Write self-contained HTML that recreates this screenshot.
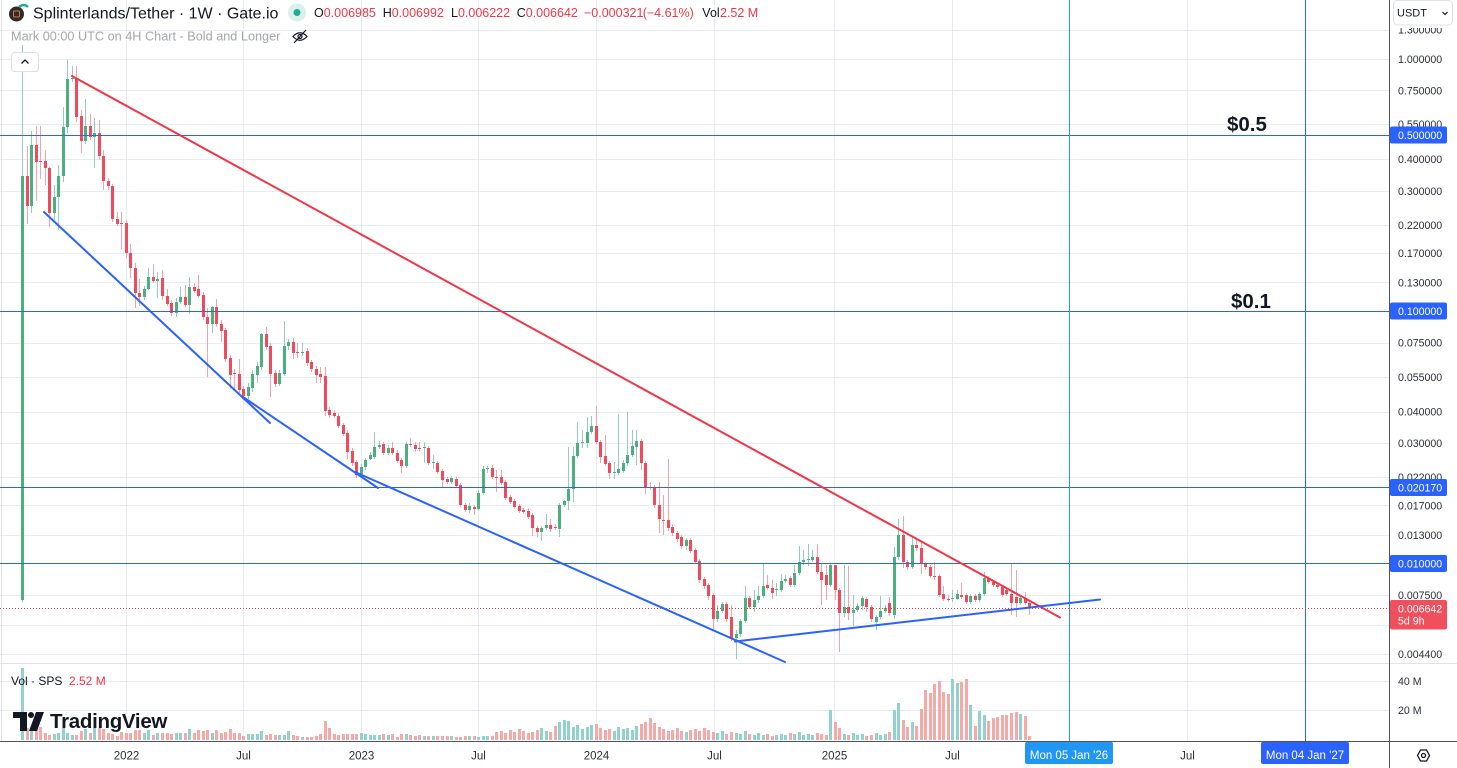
<!DOCTYPE html>
<html><head><meta charset="utf-8">
<style>
html,body{margin:0;padding:0;background:#fff;}
body{width:1457px;height:768px;overflow:hidden;position:relative;}
svg{position:absolute;left:0;top:0;font-family:"Liberation Sans",sans-serif;}
</style></head><body>
<svg width="1457" height="768" viewBox="0 0 1457 768" xmlns="http://www.w3.org/2000/svg">
<rect width="1457" height="768" fill="#fff"/>
<!-- grid -->
<g stroke="#e9edf2" stroke-width="1" shape-rendering="crispEdges">
<line x1="0" y1="30.5" x2="1389" y2="30.5"/><line x1="0" y1="59.5" x2="1389" y2="59.5"/><line x1="0" y1="90.5" x2="1389" y2="90.5"/><line x1="0" y1="124.5" x2="1389" y2="124.5"/><line x1="0" y1="159.5" x2="1389" y2="159.5"/><line x1="0" y1="191.5" x2="1389" y2="191.5"/><line x1="0" y1="225.5" x2="1389" y2="225.5"/><line x1="0" y1="253.5" x2="1389" y2="253.5"/><line x1="0" y1="282.5" x2="1389" y2="282.5"/><line x1="0" y1="343.5" x2="1389" y2="343.5"/><line x1="0" y1="377.5" x2="1389" y2="377.5"/><line x1="0" y1="412.5" x2="1389" y2="412.5"/><line x1="0" y1="443.5" x2="1389" y2="443.5"/><line x1="0" y1="477.5" x2="1389" y2="477.5"/><line x1="0" y1="505.5" x2="1389" y2="505.5"/><line x1="0" y1="535.5" x2="1389" y2="535.5"/><line x1="0" y1="595.5" x2="1389" y2="595.5"/><line x1="0" y1="625.5" x2="1389" y2="625.5"/><line x1="0" y1="654.5" x2="1389" y2="654.5"/>
<line x1="0" y1="681.5" x2="1389" y2="681.5"/><line x1="0" y1="710.5" x2="1389" y2="710.5"/>
<line x1="126.5" y1="0" x2="126.5" y2="741"/><line x1="243.5" y1="0" x2="243.5" y2="741"/><line x1="361.5" y1="0" x2="361.5" y2="741"/><line x1="478.5" y1="0" x2="478.5" y2="741"/><line x1="596.5" y1="0" x2="596.5" y2="741"/><line x1="714.5" y1="0" x2="714.5" y2="741"/><line x1="834.5" y1="0" x2="834.5" y2="741"/><line x1="952.5" y1="0" x2="952.5" y2="741"/><line x1="1187.5" y1="0" x2="1187.5" y2="741"/>
</g>
<line x1="1.5" y1="0" x2="1.5" y2="741" stroke="#e0e3eb"/>
<line x1="0" y1="663.5" x2="1457" y2="663.5" stroke="#e0e3eb"/>

<g id="vol"></g>
<g id="cand"></g>

<!-- horizontal drawing lines -->
<g stroke="#2962ff" stroke-width="1" shape-rendering="crispEdges">
<line x1="0" y1="135.5" x2="1389" y2="135.5"/>
<line x1="0" y1="311.5" x2="1389" y2="311.5"/>
<line x1="0" y1="487.5" x2="1389" y2="487.5"/>
<line x1="0" y1="563.5" x2="1389" y2="563.5"/>
<line x1="1305.5" y1="0" x2="1305.5" y2="741"/>
</g>
<line x1="1069.5" y1="0" x2="1069.5" y2="741" stroke="#2196f3" stroke-width="1" shape-rendering="crispEdges"/>
<line x1="0" y1="608.5" x2="1389" y2="608.5" stroke="#f23645" stroke-width="1" stroke-dasharray="1,2"/>

<!-- trend lines -->
<g stroke-width="2" stroke-linecap="round" fill="none">
<line x1="72" y1="76" x2="1060" y2="617.5" stroke="#f23645"/>
<line x1="44" y1="212" x2="270" y2="423" stroke="#2962ff"/>
<line x1="243" y1="397" x2="378" y2="488" stroke="#2962ff"/>
<line x1="355" y1="472" x2="785" y2="662" stroke="#2962ff"/>
<line x1="735" y1="641.5" x2="1100" y2="599.5" stroke="#2962ff"/>
</g>

<text x="1227" y="131" font-size="20.5" font-weight="bold" fill="#131722">$0.5</text>
<text x="1231" y="308" font-size="20.5" font-weight="bold" fill="#131722">$0.1</text>

<!-- header -->
<circle cx="16.5" cy="14" r="7.5" fill="#2b2b2b"/>
<rect x="13.5" y="11" width="6" height="6" rx="1" fill="none" stroke="#e07a2f" stroke-width="1"/>
<path d="M19,7 Q24,3 28,7" stroke="#22ab94" stroke-width="2.5" fill="none"/>
<text x="33" y="18.3" font-size="16" fill="#131722">Splinterlands/Tether · 1W · Gate.io</text>
<circle cx="297" cy="12.5" r="9" fill="#daf0eb"/>
<circle cx="297" cy="12.5" r="3.5" fill="#22ab94"/>
<g font-size="12.5">
<text x="314" y="17" fill="#131722">O<tspan fill="#f23645">0.006985</tspan></text>
<text x="382.7" y="17" fill="#131722">H<tspan fill="#f23645">0.006992</tspan></text>
<text x="451" y="17" fill="#131722">L<tspan fill="#f23645">0.006222</tspan></text>
<text x="516.7" y="17" fill="#131722">C<tspan fill="#f23645">0.006642</tspan></text>
<text x="584" y="17" fill="#f23645">−0.000321</text>
<text x="642.7" y="17" fill="#f23645">(−4.61%)</text>
<text x="702.3" y="17" fill="#131722">Vol</text>
<text x="720" y="17" fill="#f23645">2.52 M</text>
</g>
<text x="11" y="40.5" font-size="12.7" fill="#a3a6af">Mark 00:00 UTC on 4H Chart - Bold and Longer</text>
<g stroke="#131722" stroke-width="1.2" fill="none">
<path d="M293,36.5 Q300,29 307,36.5 Q300,44 293,36.5 Z"/>
<circle cx="300" cy="36.5" r="2"/>
<line x1="294" y1="43" x2="306" y2="30"/>
</g>
<rect x="11.5" y="52.5" width="27" height="19" rx="3" fill="#fff" stroke="#dcdfe5"/>
<path d="M21.5,63.5 L25,60 L28.5,63.5" stroke="#131722" stroke-width="1.3" fill="none"/>

<!-- volume legend & logo -->
<text x="11" y="685" font-size="12" fill="#131722">Vol · SPS</text>
<text x="69" y="685" font-size="12" fill="#f23645">2.52 M</text>
<path d="M13,712 H27 V731 H20 V718 H13 Z" fill="#131722"/>
<circle cx="31" cy="715" r="3" fill="#131722"/>
<path d="M36,712 H44 L37,731 H29 Z" fill="#131722"/>
<text x="50" y="728" font-size="20.5" font-weight="bold" fill="#131722" letter-spacing="-0.3">TradingView</text>

<!-- price axis -->
<rect x="1390" y="0" width="67" height="741" fill="#fff"/>
<line x1="1389.5" y1="0" x2="1389.5" y2="768" stroke="#50535e" stroke-width="1"/>
<line x1="0" y1="741.5" x2="1457" y2="741.5" stroke="#50535e" stroke-width="1"/>
<line x1="1390" y1="663.5" x2="1457" y2="663.5" stroke="#e0e3eb"/>
<g font-size="10.6" fill="#2a2e39">
<text x="1398" y="33.5">1.300000</text>
<text x="1398" y="62.8">1.000000</text>
<text x="1398" y="94.3">0.750000</text>
<text x="1398" y="128">0.550000</text>
<text x="1398" y="163">0.400000</text>
<text x="1398" y="194.8">0.300000</text>
<text x="1398" y="228.8">0.220000</text>
<text x="1398" y="257">0.170000</text>
<text x="1398" y="286.5">0.130000</text>
<text x="1398" y="346.5">0.075000</text>
<text x="1398" y="380.8">0.055000</text>
<text x="1398" y="415.5">0.040000</text>
<text x="1398" y="447">0.030000</text>
<text x="1398" y="481">0.022000</text>
<text x="1398" y="509.5">0.017000</text>
<text x="1398" y="539">0.013000</text>
<text x="1398" y="599">0.007500</text>
<text x="1398" y="657.8">0.004400</text>
<text x="1398" y="685">40 M</text>
<text x="1398" y="714">20 M</text>
</g>
<g font-size="10.6" fill="#fff">
<rect x="1390" y="126.5" width="57" height="17" rx="2" fill="#2962ff"/><text x="1398" y="139">0.500000</text>
<rect x="1390" y="302.5" width="57" height="17" rx="2" fill="#2962ff"/><text x="1398" y="315">0.100000</text>
<rect x="1390" y="479" width="57" height="17" rx="2" fill="#2962ff"/><text x="1398" y="491.5">0.020170</text>
<rect x="1390" y="555" width="57" height="17" rx="2" fill="#2962ff"/><text x="1398" y="567.5">0.010000</text>
<rect x="1390" y="600" width="57" height="29.5" rx="2" fill="#f04f5d"/><text x="1398" y="612.3">0.006642</text><text x="1398" y="624.5">5d 9h</text>
</g>
<rect x="1390" y="0" width="67" height="28" fill="#fff"/>
<rect x="1393.5" y="0.5" width="59" height="24.5" rx="4" fill="#fff" stroke="#e0e3eb"/>
<text x="1397" y="16.7" font-size="11" fill="#131722">USDT</text>
<path d="M1442.5,12 L1445,14.5 L1447.5,12" stroke="#131722" stroke-width="1.2" fill="none"/>

<!-- time axis -->
<g font-size="11.5" fill="#2a2e39" text-anchor="middle">
<text x="126.5" y="759.3">2022</text>
<text x="243.5" y="759.3">Jul</text>
<text x="361.5" y="759.3">2023</text>
<text x="478.5" y="759.3">Jul</text>
<text x="596.5" y="759.3">2024</text>
<text x="714.5" y="759.3">Jul</text>
<text x="834.5" y="759.3">2025</text>
<text x="952.5" y="759.3">Jul</text>
<text x="1187.5" y="759.3">Jul</text>
</g>
<rect x="1025" y="742" width="88" height="22" rx="2" fill="#2196f3"/>
<text x="1069" y="759" font-size="11.5" fill="#fff" text-anchor="middle">Mon 05 Jan '26</text>
<rect x="1261" y="742" width="88" height="22" rx="2" fill="#2962ff"/>
<text x="1305" y="759" font-size="11.5" fill="#fff" text-anchor="middle">Mon 04 Jan '27</text>
<path d="M1417.5,755.5 L1420.5,750 L1426.5,750 L1429.5,755.5 L1426.5,761 L1420.5,761 Z" stroke="#131722" stroke-width="1.3" fill="none"/>
<circle cx="1423.5" cy="755.5" r="2" stroke="#131722" stroke-width="1.3" fill="none"/>
</svg>
<script>
(function(){
var D=[
[600,176,45,602],[176,206,146,224],[206,145,131,213],[145,162,126,201],[161,162,126,179],[161,168,150,185],[168,213,167,227],[213,197,185,220],[197,176,165,230],[176,127,107,182],
[127,79,60,133],[79,78,66,82],[79,117,66,122],[116,141,110,153],[141,126,99,144],[126,137,114,140],[137,133,118,168],[133,156,120,160],[156,181,150,190],[181,186,178,190],
[186,219,184,222],[219,224,212,226],[223,224,212,250],[223,253,220,258],[253,268,244,278],[268,293,263,308],[293,297,279,306],[297,289,286,300],[289,277,268,290],[277,281,264,283],
[281,279,272,298],[278,296,270,300],[296,304,289,306],[303,313,300,316],[313,302,298,317],[302,297,287,304],[297,305,285,307],[305,287,277,314],[287,291,283,293],[289,296,275,298],
[295,317,292,320],[317,324,308,377],[324,307,306,333],[307,324,299,327],[324,331,320,342],[330,359,328,362],[358,375,355,389],[373,374,369,390],[374,390,359,393],[389,396,386,400],
[396,387,383,399],[388,374,370,392],[375,366,362,383],[367,334,333,370],[334,347,327,350],[346,374,343,397],[373,384,370,387],[384,373,370,386],[374,346,321,376],[346,342,339,350],
[342,353,338,359],[352,353,343,358],[353,352,343,356],[351,363,348,366],[362,369,360,372],[369,375,366,383],[374,377,367,383],[376,411,367,416],[410,415,407,418],[413,416,410,418],
[416,426,413,428],[425,434,423,436],[433,452,430,459],[451,463,448,466],[462,475,460,478],[474,467,464,477],[467,460,458,470],[459,455,452,460],[457,447,432,459],[447,445,441,449],
[444,453,442,455],[453,448,445,455],[448,453,442,455],[453,461,450,463],[460,466,458,473],[466,444,442,468],[444,445,438,447],[445,449,442,451],[448,449,442,451],[448,447,442,463],
[448,463,446,465],[463,462,455,469],[463,472,461,474],[471,480,469,487],[479,482,477,484],[482,478,476,484],[479,486,477,488],[485,505,483,507],[505,510,503,512],[510,506,503,513],
[507,509,505,515],[509,493,490,511],[493,469,466,495],[469,468,466,473],[468,477,465,479],[477,477,470,492],[477,483,470,485],[482,498,480,500],[497,502,495,504],[501,507,499,509],
[506,511,504,513],[510,512,508,514],[511,517,509,519],[515,528,513,536],[528,532,526,537],[532,528,526,541],[528,525,514,530],[525,529,519,532],[527,528,524,530],[529,505,503,537],
[505,501,500,507],[501,489,447,510],[489,456,447,502],[456,443,422,458],[443,442,430,448],[443,432,417,448],[432,426,416,434],[426,442,406,444],[442,457,440,463],[456,464,435,466],
[463,473,461,479],[473,472,462,479],[473,469,414,475],[471,463,460,473],[463,455,412,466],[455,446,430,457],[447,441,430,465],[441,463,439,470],[463,487,461,494],[487,487,482,490],
[487,505,485,508],[505,519,482,533],[520,520,495,535],[520,528,459,531],[527,533,525,536],[533,539,531,542],[537,546,535,549],[546,540,538,550],[540,551,538,553],[550,562,548,564],
[561,580,559,583],[579,586,577,589],[585,596,583,600],[595,619,593,630],[619,611,605,622],[611,604,602,613],[604,619,602,622],[617,638,605,641],[638,634,630,659],[634,621,619,637],
[621,598,586,623],[598,607,596,609],[607,600,590,612],[600,596,586,603],[596,586,563,598],[585,588,575,590],[588,593,580,599],[590,589,583,596],[590,581,574,592],[581,579,575,583],
[578,585,576,587],[585,573,565,587],[573,562,546,575],[562,560,550,565],[560,559,544,566],[560,557,550,562],[557,572,544,575],[572,580,564,605],[575,585,565,600],[585,565,563,587],
[565,590,565,600],[590,613,588,652],[613,607,565,617],[607,613,566,620],[613,610,595,626],[610,606,603,612],[606,598,596,610],[599,607,597,612],[607,619,605,622],[622,617,615,630],
[617,611,596,619],[611,608,605,613],[603,613,597,616],[615,557,547,619],[557,535,519,560],[535,562,516,568],[562,567,560,570],[567,545,537,569],[545,548,538,551],[548,564,543,574],
[564,567,562,570],[567,576,565,578],[576,576,562,580],[576,595,574,597],[594,599,586,601],[599,599,595,602],[599,598,590,602],[599,594,590,600],[595,597,583,599],[595,602,593,604],
[602,596,594,604],[596,600,594,602],[600,594,592,602],[594,578,572,596],[578,582,576,584],[582,585,580,587],[585,587,583,589],[587,595,585,597],[590,594,588,596],[594,603,563,615],
[597,603,570,617],[603,598,596,605],[598,603,592,605],[603,608,601,615]
];
var V=[72,
12,11,11,13,7,5,6,7,12,7,5,5,9,11,7,12,12,11,7,6,4,8,7,7,10,10,7,10,5,7,
7,7,6,7,7,7,11,7,10,9,10,7,10,7,8,11,7,7,4,6,6,6,9,5,6,5,5,5,9,5,4,3,3,3,4,6,
19,12,6,5,6,6,6,6,7,6,5,5,5,6,5,6,3,6,6,5,4,5,4,4,4,4,4,4,4,3,3,4,4,4,3,4,4,4,8,
9,7,10,8,11,9,7,8,10,12,9,8,
14,18,20,19,13,15,
11,13,15,16,12,10,11,9,13,11,12,10,14,
16,18,22,17,13,
11,9,10,12,9,8,10,11,9,12,10,
8,7,9,6,8,7,6,9,
6,5,7,5,6,4,5,6,5,7,6,8,5,6,5,7,6,5,
30,18,12,
6,5,7,5,6,4,5,7,5,6,8,
30,37,20,13,18,14,31,50,47,56,59,48,46,61,57,58,61,35,14,29,25,19,22,23,25,25,27,28,26,24,4];
var NS="http://www.w3.org/2000/svg";
var gc=document.getElementById('cand'), gv=document.getElementById('vol');
function R(g,x,y,w,h,f){var r=document.createElementNS(NS,'rect');r.setAttribute('x',x);r.setAttribute('y',y);r.setAttribute('width',w);r.setAttribute('height',h);r.setAttribute('fill',f);r.setAttribute('shape-rendering','crispEdges');g.appendChild(r);}
for(var i=0;i<D.length;i++){
 var d=D[i],x=Math.round(22+i*4.516),o=d[0],c=d[1],hi=d[2],lo=d[3];
 var up=c<o;
 var by=Math.min(o,c),bh=Math.max(1,Math.abs(o-c));
 R(gc,x,hi,1,Math.max(1,lo-hi),up?'#95cbc3':'#f5a3aa');
 R(gc,x-1,by,3,bh,up?'#4caf7e':'#ef4b5d');
 var vh=V[i]||5;
 R(gv,x-1,740-vh,3,vh,up?'#92d2cc':'#f7a9a8');
}
})();
</script>
</body></html>
